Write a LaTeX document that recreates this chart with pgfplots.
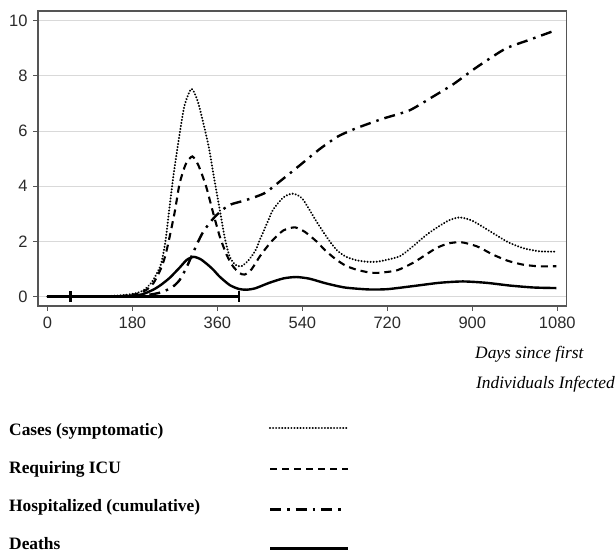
\documentclass[border=0pt]{standalone}
\usepackage{fontspec}
\setmainfont{Liberation Serif}
\setsansfont{Liberation Sans}
\usepackage{pgfplots}
\pgfplotsset{compat=1.18}

\definecolor{axgray}{HTML}{555555}
\definecolor{gridgray}{HTML}{D9D9D9}
\definecolor{lblgray}{HTML}{2B2B2B}

\tikzset{
  cases/.style={line width=2.2pt, line cap=round, dash pattern=on 0.05pt off 3pt},
  icu/.style={line width=2.1pt, dash pattern=on 7pt off 5pt},
  hosp/.style={line width=2.4pt, dash pattern=on 11pt off 6pt on 2.5pt off 6pt},
  deaths/.style={line width=2.4pt},
}

\begin{document}
\begin{tikzpicture}[x=1pt,y=1pt]
\path (0,0) rectangle (616,552);
\begin{axis}[
    at={(38pt,246pt)}, anchor=south west,
    scale only axis, width=528.7pt, height=295pt,
    xmin=-20, xmax=1100, ymin=-0.34, ymax=10.35,
    xtick={0,180,360,540,720,900,1080},
    ytick={0,2,4,6,8,10},
    xtick pos=left, ytick pos=left,
    tick align=outside, major tick length=5pt,
    every tick/.style={axgray, line width=1pt},
    axis line style={axgray, line width=1.3pt},
    ymajorgrids, grid style={gridgray, line width=1pt},
    /pgf/number format/assume math mode=true,
    /pgf/number format/1000 sep={},
    tick label style={font=\fontsize{16.5}{19}\sffamily, text=lblgray},
    xticklabel style={yshift=-2pt},
    yticklabel style={xshift=-2pt},
]
% interval bar along the time axis
\addplot[black, line width=2.8pt, no markers] coordinates {(0,0) (406,0)};
\addplot[black, only marks, mark=|, mark size=5.5pt, mark options={solid, line width=2.4pt}] coordinates {(49,0) (406,0)};

% Cases (symptomatic)
\addplot[black, no markers, cases, smooth, tension=0.4] coordinates {
(0,0) (60,0) (120,0.01) (160,0.05) (190,0.13) (205,0.25) (220,0.5) (232,0.85)
(241,1.2) (250,2.0) (258,3.15) (267,4.4) (277,5.56) (290,6.9) (305,7.53)
(318,7.1) (330,6.3) (342,5.4) (353,4.3) (365,3.15) (376,2.1) (386,1.45)
(398,1.15) (411,1.1) (425,1.3) (440,1.65) (450,2.06) (465,2.65) (478,3.15)
(500,3.6) (520,3.73) (540,3.55) (570,2.72) (592,2.15) (612,1.7) (632,1.45)
(654,1.32) (680,1.26) (704,1.28) (746,1.46) (774,1.82) (800,2.2) (824,2.49)
(850,2.76) (873,2.87) (900,2.75) (944,2.3) (975,1.98) (1007,1.76) (1043,1.64)
(1078,1.63)};

% Requiring ICU
\addplot[black, no markers, icu, smooth, tension=0.4] coordinates {
(0,0) (60,0) (120,0.01) (160,0.03) (190,0.1) (210,0.25) (225,0.5) (240,1.0)
(250,1.5) (259,2.18) (270,3.1) (280,4.1) (293,4.8) (307,5.08) (320,4.75)
(336,4.0) (350,3.1) (365,2.18) (380,1.5) (393,1.1) (407,0.85) (418,0.8)
(432,0.98) (450,1.46) (465,1.8) (478,2.06) (500,2.4) (524,2.51) (545,2.35)
(570,2.0) (590,1.65) (612,1.34) (632,1.12) (654,0.98) (680,0.88) (700,0.86)
(740,0.95) (774,1.22) (800,1.5) (824,1.76) (850,1.93) (877,1.97) (910,1.82)
(944,1.52) (975,1.3) (1007,1.16) (1040,1.1) (1078,1.1)};

% Hospitalized (cumulative)
\addplot[black, no markers, hosp, smooth, tension=0.4] coordinates {
(0,0) (150,0) (200,0.03) (240,0.15) (265,0.35) (280,0.6) (293,1.0) (305,1.45)
(318,1.95) (330,2.35) (345,2.7) (358,2.95) (375,3.2) (390,3.35) (421,3.5)
(460,3.75) (492,4.17) (534,4.75) (577,5.35) (615,5.8) (654,6.1) (711,6.45)
(767,6.75) (817,7.25) (860,7.7) (900,8.2) (930,8.55) (972,9.0) (1020,9.3)
(1078,9.66)};

% Deaths
\addplot[black, no markers, deaths, smooth, tension=0.4] coordinates {
(0,0) (120,0) (170,0.02) (200,0.08) (224,0.25) (240,0.42) (259,0.68) (280,1.05)
(295,1.33) (310,1.44) (325,1.35) (340,1.15) (351,0.98) (365,0.72) (386,0.42)
(405,0.28) (421,0.25) (440,0.3) (470,0.5) (500,0.66) (527,0.71) (555,0.65)
(590,0.48) (630,0.33) (680,0.26) (720,0.27) (774,0.38) (830,0.5) (880,0.55)
(930,0.5) (980,0.4) (1030,0.33) (1078,0.31)};
\end{axis}

% axis caption
\begin{scope}[every node/.style={inner sep=0pt, font=\fontsize{17.4}{20}\selectfont\itshape}]
\node[anchor=base west] at (475,193) {Days since first};
\node[anchor=base west] at (476,163) {Individuals Infected};
\end{scope}

% legend
\begin{scope}[every node/.style={inner sep=0pt, font=\fontsize{17.4}{20}\selectfont\bfseries}]
\node[anchor=base west] at (9,117) {Cases (symptomatic)};
\node[anchor=base west] at (9,79) {Requiring ICU};
\node[anchor=base west] at (9,41) {Hospitalized (cumulative)};
\node[anchor=base west] at (9,2.5) {Deaths};
\draw[cases] (270,124.3) -- (347,124.3);
\draw[icu] (270,82.7) -- (348,82.7);
\draw[hosp] (270,42.7) -- (346,42.7);
\draw[deaths] (270,3.5) -- (348,3.5);
\end{scope}
\end{tikzpicture}
\end{document}
